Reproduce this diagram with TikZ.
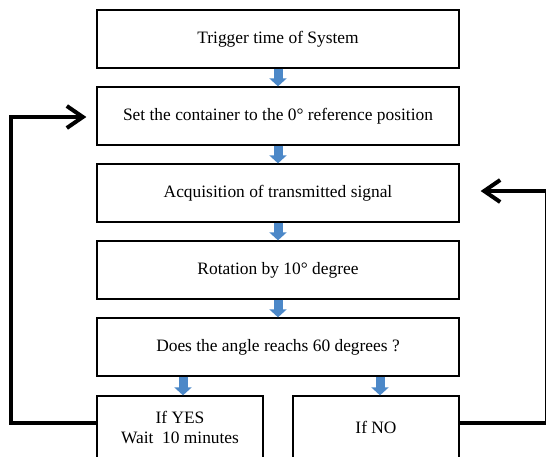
\documentclass[tikz,border=0pt]{standalone}
\usepackage{fontspec}
\setmainfont{Liberation Serif}
\usepackage{xcolor}
\usetikzlibrary{arrows.meta,positioning}
\definecolor{flowblue}{RGB}{76,136,200}
\begin{document}
\begin{tikzpicture}[
  x=1pt, y=1pt,
  font=\fontsize{17.4}{20}\selectfont,
  stp/.style={draw=black, line width=1.3pt, fill=white, align=center, minimum width=362pt, minimum height=58pt, inner sep=3pt},
  flw/.style={-{Triangle[width=17pt,length=8pt]}, line width=9pt, flowblue},
  ret/.style={-{Straight Barb[length=16pt,width=22pt]}, line width=4pt, black}]
\useasboundingbox (0,0) rectangle (546,-456);
\clip (0,0) rectangle (546,-456);
\node[stp] (trig) at (278,-39) {Trigger time of System};
\node[stp, below=17.7pt of trig] (set) {Set the container to the 0° reference position};
\node[stp, below=17.7pt of set] (acq) {Acquisition of transmitted signal};
\node[stp, below=17.7pt of acq] (rot) {Rotation by 10° degree};
\node[stp, below=17.7pt of rot] (chk) {Does the angle reachs 60 degrees ?};
\node[stp, minimum width=166pt, minimum height=62pt, below=18.7pt of chk.south west, anchor=north west] (yes) {If YES\\Wait\ \ 10 minutes};
\node[stp, minimum width=166pt, minimum height=62pt, below=18.7pt of chk.south east, anchor=north east] (no) {If NO};
\coordinate (lft) at (10.5,0);
\coordinate (rgt) at (547,0);
\path ([yshift=4pt]yes.west) coordinate (ya) ([yshift=4pt]no.east) coordinate (na);
\foreach \a/\b in {trig/set,set/acq,acq/rot,rot/chk}
  \draw[flw] (\a) -- (\b);
\draw[flw] ([xshift=3pt]yes.north |- chk.south) -- ([xshift=3pt]yes.north);
\draw[flw] ([xshift=4pt]no.north |- chk.south) -- ([xshift=4pt]no.north);
\draw[ret] (ya) -- (ya -| lft) |- ([xshift=-10pt,yshift=-1pt]set.west);
\draw[ret] (na) -- (na -| rgt) |- ([xshift=21pt,yshift=2pt]acq.east);
\end{tikzpicture}
\end{document}
